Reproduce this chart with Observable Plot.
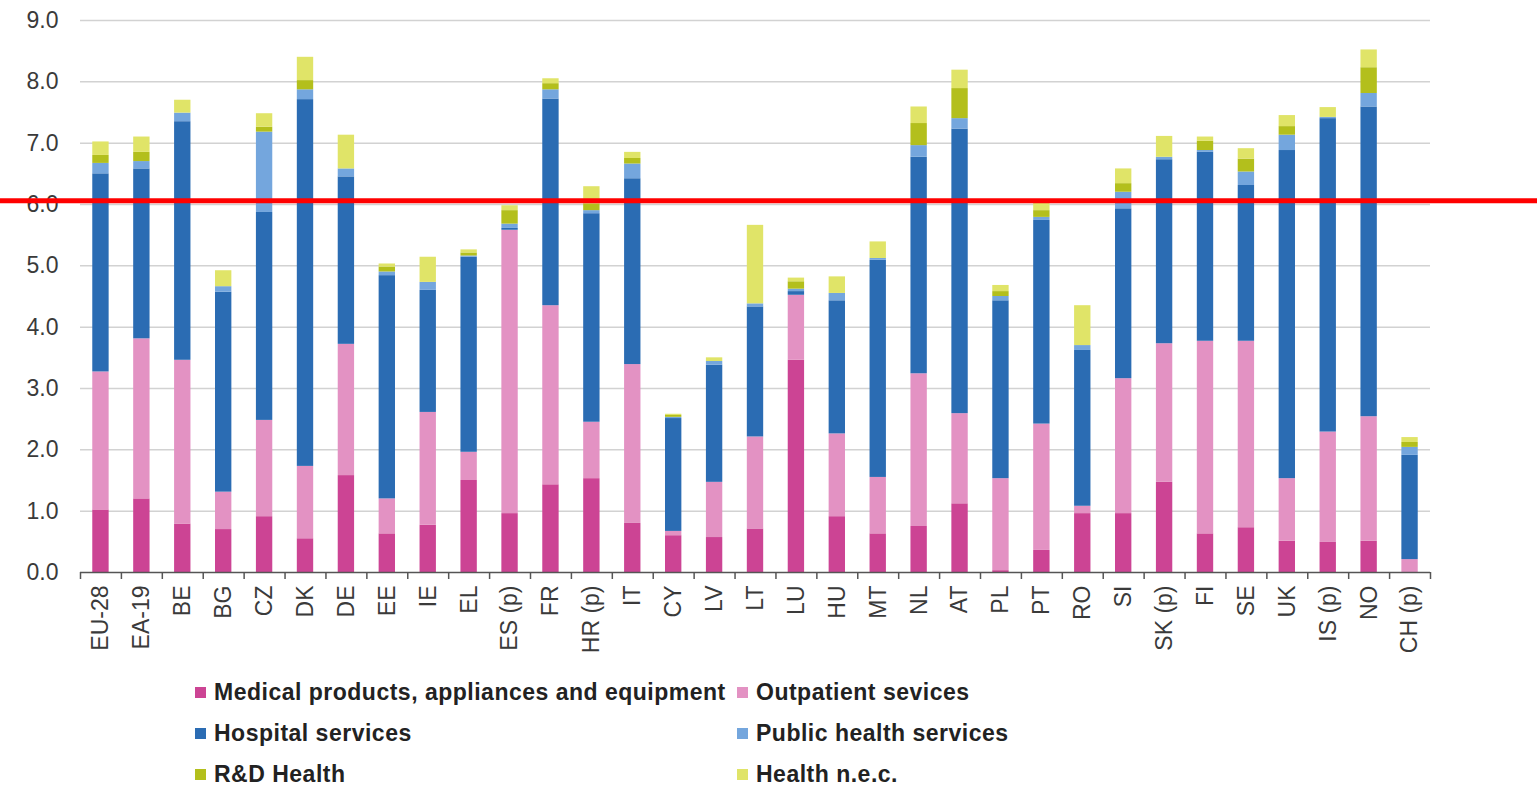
<!DOCTYPE html>
<html><head><meta charset="utf-8">
<script src="https://cdn.jsdelivr.net/npm/d3@7"></script>
<script src="https://cdn.jsdelivr.net/npm/@observablehq/plot@0.6"></script>
<style>
body{margin:0;background:#fff;font-family:"Liberation Sans",Arial,sans-serif;}
#legend{display:grid;grid-template-columns:542px auto;margin-left:195px;}
.item{display:flex;align-items:center;height:41px;font-weight:bold;font-size:23px;letter-spacing:0.5px;color:#222;white-space:nowrap;}
.sw{width:11px;height:11px;margin-right:8px;flex:none;}
</style></head><body><div id="chart"></div><div id="legend"></div>
<script>
const cats = ["EU-28","EA-19","BE","BG","CZ","DK","DE","EE","IE","EL","ES (p)","FR","HR (p)","IT","CY","LV","LT","LU","HU","MT","NL","AT","PL","PT","RO","SI","SK (p)","FI","SE","UK","IS (p)","NO","CH (p)"];
const medical    = [1.02,1.20,0.79,0.70,0.91,0.55,1.58,0.63,0.77,1.50,0.96,1.43,1.53,0.80,0.60,0.57,0.71,3.46,0.91,0.63,0.75,1.12,0.03,0.36,0.96,0.96,1.47,0.63,0.73,0.51,0.49,0.51,0.00];
const outpatient = [2.25,2.61,2.67,0.61,1.57,1.18,2.14,0.57,1.84,0.46,4.62,2.92,0.92,2.59,0.07,0.90,1.50,1.06,1.35,0.92,2.49,1.47,1.50,2.06,0.12,2.20,2.26,3.14,3.04,1.02,1.80,2.03,0.21];
const hospital   = [3.23,2.77,3.89,3.26,3.39,5.98,2.73,3.64,1.99,3.18,0.03,3.37,3.40,3.03,1.84,1.91,2.12,0.06,2.17,3.54,3.53,4.64,2.90,3.32,2.54,2.77,3.00,3.08,2.54,5.35,5.11,5.05,1.70];
const publicH    = [0.17,0.12,0.14,0.09,1.31,0.16,0.13,0.06,0.13,0.02,0.07,0.15,0.05,0.24,0.02,0.06,0.05,0.04,0.12,0.03,0.19,0.17,0.07,0.05,0.08,0.27,0.04,0.03,0.22,0.25,0.02,0.22,0.13];
const rdHealth   = [0.13,0.15,0.00,0.00,0.08,0.15,0.00,0.08,0.00,0.05,0.22,0.10,0.11,0.09,0.03,0.00,0.00,0.12,0.00,0.00,0.36,0.49,0.08,0.11,0.00,0.14,0.00,0.15,0.21,0.14,0.00,0.42,0.08];
const healthNec  = [0.22,0.25,0.21,0.26,0.22,0.38,0.55,0.05,0.41,0.05,0.08,0.08,0.28,0.10,0.02,0.06,1.28,0.06,0.27,0.27,0.27,0.30,0.10,0.14,0.65,0.24,0.34,0.07,0.17,0.18,0.16,0.29,0.08];
const seriesNames = ["Medical products, appliances and equipment","Outpatient sevices","Hospital services","Public health services","R&D Health","Health n.e.c."];
const seriesColors = ["#cc4494","#e392c3","#2b6cb3","#74a6dd","#b3bf1c","#e0e468"];
const yTicks = [0,1,2,3,4,5,6,7,8,9];
const redLine = [6.06];

const seriesValues = [medical,outpatient,hospital,publicH,rdHealth,healthNec];
const rows = [];
seriesNames.forEach((s,si)=>cats.forEach((c,ci)=>rows.push({cat:c, series:s, value:seriesValues[si][ci]})));

const W = 1537, ML = 80, MR = 107;
const step = (W-ML-MR)/cats.length;

const plot = Plot.plot({
  width: W, height: 672,
  marginLeft: ML, marginRight: MR, marginTop: 20, marginBottom: 100,
  style: {fontSize: "23px", fontFamily: "'Liberation Sans', Arial, sans-serif", color: "#3a3a3a", background: "#fff"},
  x: {domain: cats, paddingInner: 0.6, paddingOuter: 0.3, round: false, label: null},
  y: {domain: [0, 9], label: null},
  color: {domain: seriesNames, range: seriesColors},
  marks: [
    Plot.gridY(yTicks.filter(d=>d>0), {stroke: "#d2d2d2", strokeOpacity: 1, strokeWidth: 1.5}),
    Plot.axisY(yTicks, {tickSize: 0, tickPadding: 22, tickFormat: d => d.toFixed(1), label: null}),
    Plot.barY(rows, Plot.stackY({x: "cat", y: "value", fill: "series", order: seriesNames})),
    Plot.ruleY([0], {stroke: "#555", strokeWidth: 1.5}),
    Plot.ruleX(cats, {x: d=>d, dx: -step/2, y1: 0, y2: 0, insetBottom: -7, stroke: "#555", strokeWidth: 1.5}),
    Plot.ruleX(cats.slice(-1), {x: d=>d, dx: step/2, y1: 0, y2: 0, insetBottom: -7, stroke: "#555", strokeWidth: 1.5}),
    Plot.axisX({tickSize: 0, tickPadding: 13, tickRotate: -90, label: null}),
    Plot.ruleY(redLine, {y: d=>d, stroke: "#ff0000", strokeWidth: 5, insetLeft: -ML, insetRight: -MR})
  ]
});
document.getElementById("chart").appendChild(plot);

const leg = document.getElementById("legend");
seriesNames.forEach((s,i)=>{
  const it = document.createElement("div"); it.className = "item";
  const sw = document.createElement("span"); sw.className = "sw"; sw.style.background = seriesColors[i];
  const tx = document.createElement("span"); tx.textContent = s;
  it.appendChild(sw); it.appendChild(tx); leg.appendChild(it);
});
</script></body></html>
